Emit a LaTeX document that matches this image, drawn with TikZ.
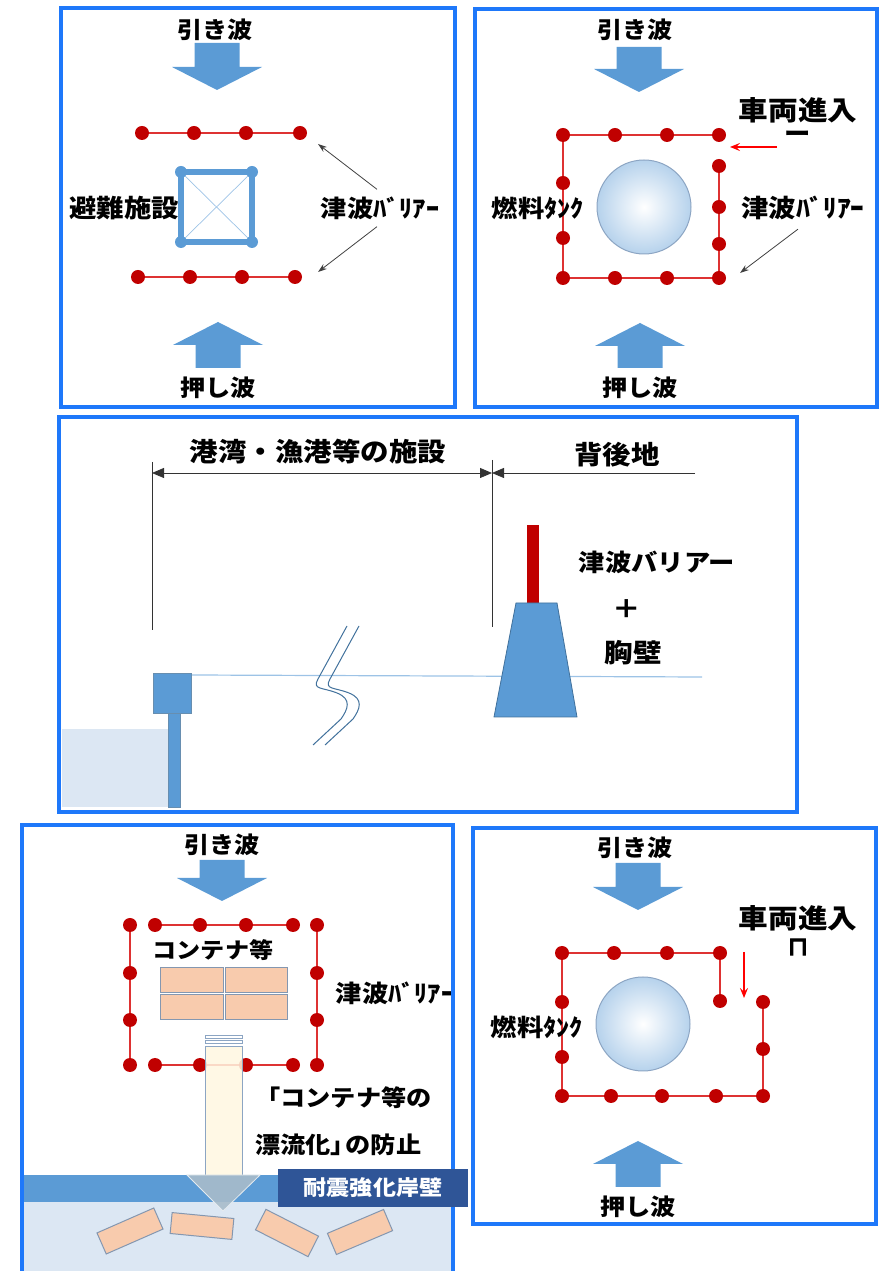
\documentclass[tikz,border=0pt]{standalone}
\usepackage{fontspec}
\newfontfamily\jp[FakeStretch=1.1]{Noto Sans CJK JP}
\newfontfamily\sym[FakeBold=4]{DejaVu Sans}
\usetikzlibrary{arrows.meta}

\definecolor{frameblue}{RGB}{30,120,250}
\definecolor{wave}{RGB}{91,155,213}
\definecolor{wavedark}{RGB}{65,113,156}
\definecolor{dotred}{RGB}{192,0,0}
\definecolor{linered}{RGB}{222,50,50}
\definecolor{tankblue}{RGB}{182,210,236}
\definecolor{tankedge}{RGB}{140,165,195}
\definecolor{sea}{RGB}{220,231,243}
\definecolor{seaside}{RGB}{157,195,230}
\definecolor{quay}{RGB}{47,85,151}
\definecolor{crate}{RGB}{248,203,173}
\definecolor{crateedge}{RGB}{132,151,176}
\definecolor{cream}{RGB}{255,247,225}
\definecolor{headgray}{RGB}{168,188,202}

% block arrows for the waves: centre x, tail y, tip y
\newcommand{\wavedown}[3]{\fill[wave] (#1-22.5,#2) -- (#1+22.5,#2) -- (#1+22.5,#3+23) -- (#1+45,#3+23) -- (#1,#3) -- (#1-45,#3+23) -- (#1-22.5,#3+23) -- cycle;}
\newcommand{\waveup}[3]{\fill[wave] (#1-22.5,#2) -- (#1+22.5,#2) -- (#1+22.5,#3-23) -- (#1+45,#3-23) -- (#1,#3) -- (#1-45,#3-23) -- (#1-22.5,#3-23) -- cycle;}

\begin{document}
\begin{tikzpicture}[x=1bp,y=1bp,
  lbl/.style={font=\jp\bfseries\fontsize{#1}{#1}\selectfont,inner sep=1bp},
  lbl/.default=23,
  frame/.style={draw=frameblue,line width=4bp},
  barrier/.style={draw=linered,line width=1.3bp},
  dot/.style={fill=dotred},
  pointer/.style={draw=black!75,line width=0.8bp,-{Stealth[length=9bp,width=6bp]}},
  entry/.style={draw=red,line width=1.5bp,-{Stealth[length=10bp,width=8bp,inset=4bp]}},
  dim/.style={draw=black!80,line width=0.8bp},
  crate/.style={fill=crate,draw=crateedge,line width=1bp,inner sep=0pt}]
\path[use as bounding box] (0,0) rectangle (881,1271);

% ---- evacuation facility
\draw[frame] (61,864) rectangle (455,1263);
\node[lbl] (pull1) at (215,1241) {引き波};
\wavedown{217}{1228}{1181}
\draw[barrier] (142,1138) -- (300,1138);
\foreach \x in {142,194,246,300} \fill[dot] (\x,1138) circle (7);
\draw[barrier] (138,994) -- (295,994);
\foreach \x in {138,190,242,295} \fill[dot] (\x,994) circle (7);
\draw[wave!60,line width=0.7bp] (181,1099) -- (252,1029) (181,1029) -- (252,1099);
\draw[wave,line width=6bp] (181,1029) rectangle (252,1099);
\foreach \x/\y in {181/1029,252/1029,181/1099,252/1099} \fill[wave] (\x,\y) circle (6);
\node[lbl=25,anchor=east] (shelter) at (180,1063) {避難施設};
\node[lbl=24] (wall1) at (380,1063) {津波ﾊﾞﾘｱｰ};
\coordinate (row1) at (318,1127);
\coordinate (row2) at (318,999);
\draw[pointer] ([xshift=-3bp,yshift=6bp]wall1.north) -- (row1);
\draw[pointer] ([xshift=-3bp,yshift=-6bp]wall1.south) -- (row2);
\waveup{218}{903}{949}
\node[lbl] (push1) at (218,883) {押し波};

% ---- fuel tank, gate at the corner
\draw[frame] (475,864) rectangle (877,1262);
\node[lbl] (pull2) at (635,1241) {引き波};
\wavedown{639}{1224}{1179}
\shade[inner color=white,outer color=tankblue] (644,1064) circle (47);
\draw[tankedge,line width=1bp] (644,1064) circle (47);
\draw[barrier] (719,1105) -- (719,993) -- (563,993) -- (563,1136) -- (719,1136);
\foreach \x in {563,615,667,719} \fill[dot] (\x,1136) circle (7);
\foreach \x in {563,615,667,719} \fill[dot] (\x,993) circle (7);
\foreach \y in {1088,1033} \fill[dot] (563,\y) circle (7);
\foreach \y in {1105,1064,1027} \fill[dot] (719,\y) circle (7);
\node[lbl=24] (tank1) at (538,1063) {燃料ﾀﾝｸ};
\node[lbl=25] (wall2) at (803,1063) {津波ﾊﾞﾘｱｰ};
\coordinate (row3) at (740,998);
\draw[pointer] ([xshift=-5bp,yshift=-8bp]wall2.south) -- (row3);
\node[lbl=27] (car1) at (798,1161) {車両進入};
\node[lbl=24] (gate1) at (798,1134) {ー};
\coordinate (in1) at (777,1124);
\coordinate (gap1) at (730,1124);
\draw[entry] (in1) -- (gap1);
\waveup{640}{903}{948}
\node[lbl] (push2) at (640,883) {押し波};

% ---- cross section
\draw[frame] (59,459) rectangle (797,854);
\fill[sea] (62,464) rectangle (168,542);
\draw[seaside,line width=1.2bp] (191,596) -- (702,594);
\fill[wave] (168,464) rectangle (180,558);
\draw[wavedark!80,line width=0.8bp] (168,464) rectangle (180,558);
\fill[wave] (153,558) rectangle (191,598);
\draw[wavedark!80,line width=0.8bp] (153,558) rectangle (191,598);
\draw[wavedark,line width=1bp] (347,645) -- (318,592) .. controls (312,581) and (322,584) .. (337,578) .. controls (352,572) and (348,562) .. (341,552) -- (313,526);
\draw[wavedark,line width=1bp] (359,645) -- (330,592) .. controls (324,581) and (334,584) .. (349,578) .. controls (364,572) and (360,562) .. (353,552) -- (325,526);
\fill[dotred] (527,668) rectangle (539,746);
\filldraw[fill=wave,draw=wavedark,line width=0.8bp] (494,554) -- (577,554) -- (557,668) -- (516,668) -- cycle;
\draw[dim] (152,809) -- (152,641);
\draw[dim] (492,811) -- (492,644);
\draw[dim,{Triangle[length=12bp,width=10bp]}-{Triangle[length=12bp,width=10bp]}] (152,798) -- (492,798);
\draw[dim,-{Triangle[length=12bp,width=10bp]}] (695,798) -- (492,798);
\node[lbl=26] (port) at (318,819) {港湾・漁港等の施設};
\node[lbl=26] (hinter) at (617,816) {背後地};
\node[lbl=24] (wall3) at (657,709) {津波バリアー};
\node[lbl=26] (plus) at (627,662) {＋};
\node[lbl=26] (chest) at (633,618) {胸壁};

% ---- containers behind the quay
\fill[sea] (24,0) rectangle (451,69);
\fill[wave] (24,69) rectangle (451,96);
\node[lbl] (pull3) at (222,426) {引き波};
\wavedown{222}{411}{370}
\draw[barrier] (155,346) -- (293,346);
\draw[barrier] (155,206) -- (293,206);
\draw[barrier] (130,346) -- (130,206);
\draw[barrier] (317,346) -- (317,206);
\foreach \x in {130,155,200,246,293,317} {
  \fill[dot] (\x,346) circle (7);
  \fill[dot] (\x,206) circle (7);
}
\foreach \y in {298,251} {
  \fill[dot] (130,\y) circle (7);
  \fill[dot] (317,\y) circle (7);
}
\node[lbl=22] (boxes) at (213,321) {コンテナ等};
\node[crate,minimum width=63bp,minimum height=25bp] (c1) at (191.5,290.5) {};
\node[crate,minimum width=62bp,minimum height=25bp] (c2) at (256,290.5) {};
\node[crate,minimum width=63bp,minimum height=25bp] (c3) at (191.5,263.5) {};
\node[crate,minimum width=62bp,minimum height=25bp] (c4) at (256,263.5) {};
\node[lbl=24] (wall4) at (395,278) {津波ﾊﾞﾘｱｰ};
\filldraw[fill=cream,fill opacity=0.85,draw=tankedge,line width=0.8bp] (205,96) rectangle (242,225);
\draw[tankedge,line width=0.8bp] (205,228) rectangle (242,231) (205,233) rectangle (242,236);
\filldraw[fill=headgray,fill opacity=0.9,draw=white!70!headgray,line width=0.8bp] (187,96) -- (260,96) -- (223,60) -- cycle;
\node[lbl=23,anchor=west] (drift1) at (254,173) {「コンテナ等の};
\node[lbl=23,anchor=west] (drift2) at (254,126) {漂流化」\kern-0.45em の防止};
\node[crate,minimum width=62bp,minimum height=23bp,rotate=23.7] (float1) at (130,40) {};
\node[crate,minimum width=62bp,minimum height=21bp,rotate=-5.5] (float2) at (202,45) {};
\node[crate,minimum width=59bp,minimum height=23bp,rotate=-27] (float3) at (287,38) {};
\node[crate,minimum width=61bp,minimum height=23bp,rotate=23] (float4) at (360,39) {};
\draw[frame] (22,-10) rectangle (453,446);
\node[fill=quay,text=white,minimum width=190bp,minimum height=38bp,lbl=21] (quaywall) at (373,83) {耐震強化岸壁};

% ---- fuel tank, gate in the side
\draw[frame] (473,47) rectangle (876,443);
\node[lbl] (pull4) at (635,423) {引き波};
\wavedown{638}{408}{361}
\shade[inner color=white,outer color=tankblue] (643,247) circle (47);
\draw[tankedge,line width=1bp] (643,247) circle (47);
\draw[barrier] (720,270) -- (720,318) -- (562,318) -- (562,175) -- (763,175) -- (763,269);
\foreach \x in {562,614,667,720} \fill[dot] (\x,318) circle (7);
\foreach \x in {562,611,662,716,763} \fill[dot] (\x,175) circle (7);
\foreach \y in {269,214} \fill[dot] (562,\y) circle (7);
\foreach \y in {269,222} \fill[dot] (763,\y) circle (7);
\fill[dot] (720,270) circle (7);
\node[lbl=24] (tank2) at (537,244) {燃料ﾀﾝｸ};
\node[lbl=27] (car2) at (798,353) {車両進入};
\node[font=\sym\fontsize{26}{26}\selectfont,inner sep=1bp] (gate2) at (798,324) {⊓};
\coordinate (in2) at (744,319);
\coordinate (gap2) at (744,273);
\draw[entry] (in2) -- (gap2);
\waveup{638}{84}{130}
\node[lbl] (push3) at (638,64) {押し波};
\end{tikzpicture}
\end{document}
